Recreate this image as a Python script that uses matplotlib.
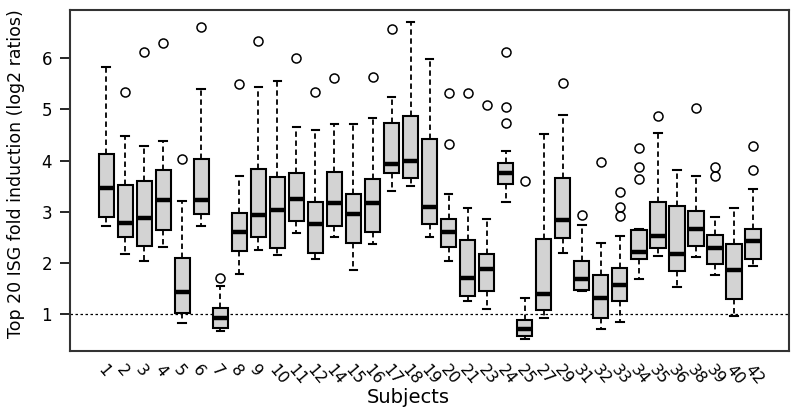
import matplotlib
matplotlib.use("Agg")
import matplotlib.pyplot as plt

# ── Data (log2 ratios) ───────────────────────────────────────────────────────
subjects = ["1", "2", "3", "4", "5", "6", "7", "8", "9", "10", "11", "12",
            "14", "15", "16", "17", "18", "19", "20", "21", "23", "24", "25",
            "27", "29", "31", "32", "33", "34", "35", "36", "38", "39", "40",
            "42"]
whisker_low = [2.72, 2.17, 2.04, 2.32, 0.82, 2.72, 0.67, 1.79, 2.26, 2.15,
               2.58, 2.07, 2.50, 1.86, 2.38, 3.41, 3.51, 2.50, 2.04, 1.26,
               1.10, 3.19, 0.52, 0.93, 2.20, 1.46, 0.72, 0.84, 1.68, 2.13,
               1.53, 2.11, 1.76, 0.97, 1.94]
q1 = [2.90, 2.50, 2.33, 2.64, 1.03, 2.96, 0.73, 2.24, 2.51, 2.30, 2.82,
      2.20, 2.72, 2.39, 2.60, 3.75, 3.66, 2.76, 2.32, 1.36, 1.46, 3.55,
      0.57, 1.08, 2.48, 1.48, 0.93, 1.26, 2.08, 2.30, 1.84, 2.33, 1.98,
      1.30, 2.08]
median = [3.46, 2.78, 2.88, 3.24, 1.44, 3.24, 0.92, 2.60, 2.94, 3.04, 3.26,
          2.76, 3.18, 2.96, 3.18, 3.94, 4.00, 3.10, 2.60, 1.70, 1.88, 3.76,
          0.71, 1.40, 2.84, 1.68, 1.32, 1.58, 2.22, 2.52, 2.18, 2.66, 2.30,
          1.86, 2.43]
q3 = [4.12, 3.52, 3.60, 3.82, 2.10, 4.03, 1.12, 2.98, 3.84, 3.68, 3.76,
      3.20, 3.78, 3.34, 3.64, 4.74, 4.88, 4.42, 2.86, 2.45, 2.17, 3.96,
      0.88, 2.46, 3.66, 2.04, 1.76, 1.90, 2.64, 3.19, 3.12, 3.01, 2.54,
      2.37, 2.67]
whisker_high = [5.83, 4.48, 4.28, 4.38, 3.22, 5.39, 1.55, 3.70, 5.44, 5.55,
                4.65, 4.60, 4.72, 4.72, 4.84, 5.24, 6.70, 5.98, 3.34, 3.08,
                2.86, 4.18, 1.32, 4.52, 4.90, 2.74, 2.39, 2.52, 2.67, 4.54,
                3.82, 3.70, 2.89, 3.08, 3.45]
outliers = [[], [5.33], [6.12], [6.29], [4.04], [6.61], [1.71], [5.49],
            [6.33], [], [6.01], [5.34], [5.62], [], [5.64], [6.57], [],
            [], [5.32, 4.32], [5.32], [5.08], [6.12, 5.04, 4.74], [3.60],
            [], [5.51], [2.94], [3.98], [3.38, 3.10, 2.92],
            [4.25, 3.88, 3.64], [4.88], [], [5.03], [3.88, 3.70], [],
            [4.28, 3.82]]
y_ticks = [1, 2, 3, 4, 5, 6]

# ── Build bxp stats ───────────────────────────────────────────────────────────
stats = []
for i, name in enumerate(subjects):
    stats.append({
        "label": name,
        "whislo": whisker_low[i], "q1": q1[i], "med": median[i],
        "q3": q3[i], "whishi": whisker_high[i], "fliers": outliers[i],
    })

fig = plt.figure(figsize=(8, 4.18), dpi=100)
ax = fig.add_axes([0.0875, 0.160, 0.899, 0.816])

positions = list(range(1, len(subjects) + 1))
ax.bxp(
    stats, positions=positions, widths=0.8, patch_artist=True,
    boxprops=dict(facecolor="#d3d3d3", edgecolor="black", linewidth=1.5),
    medianprops=dict(color="black", linewidth=3.2, solid_capstyle="butt"),
    whiskerprops=dict(color="black", linewidth=1.3, linestyle=(0, (3, 2))),
    capprops=dict(color="black", linewidth=1.5),
    flierprops=dict(marker="o", markerfacecolor="none", markeredgecolor="black",
                    markersize=6.5, markeredgewidth=1.1, linestyle="none"),
)

ax.axhline(1, color="black", linewidth=0.9, linestyle=(0, (2, 2)), zorder=0)

n = len(subjects)
ax.set_xlim(0.5 - 0.04 * n, n + 0.5 + 0.04 * n)
ax.set_ylim(0.28, 6.94)

ax.set_yticks(y_ticks)
ax.set_yticklabels([str(t) for t in y_ticks], fontsize=12)
ax.tick_params(axis="y", direction="out", length=7, width=1.2, pad=6)

ax.set_xticks(positions)
ax.set_xticklabels(subjects, fontsize=11.5, rotation=-50,
                   ha="left", va="top", rotation_mode="anchor")
ax.tick_params(axis="x", length=0, pad=8)

for side in ax.spines.values():
    side.set_linewidth(1.5)
    side.set_color("#333333")

ax.set_ylabel("Top 20 ISG fold induction (log2 ratios)", fontsize=12.5)
ax.yaxis.set_label_coords(-0.062, 0.52)
ax.set_xlabel("Subjects", fontsize=14)
ax.xaxis.set_label_coords(0.47, -0.135)
ax.xaxis.label.set_va("center")

fig.savefig("out.png", dpi=100)
